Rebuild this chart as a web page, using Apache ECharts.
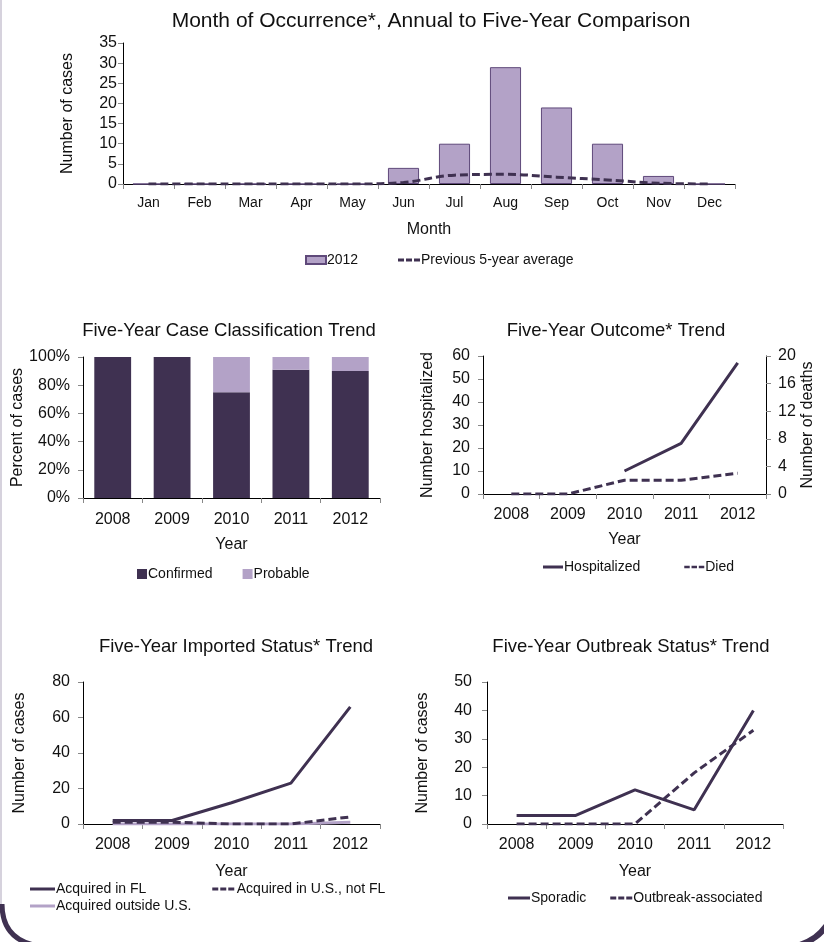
<!DOCTYPE html>
<html>
<head>
<meta charset="utf-8">
<title>Five-Year Trends</title>
<script src="https://cdn.jsdelivr.net/npm/echarts@6/dist/echarts.min.js"></script>
<style>
  html, body { margin: 0; padding: 0; background: #fff; }
  #chart { width: 824px; height: 942px; }
</style>
</head>
<body>
<div id="chart"></div>
<script>
// ---- data ----
const months = ['Jan', 'Feb', 'Mar', 'Apr', 'May', 'Jun', 'Jul', 'Aug', 'Sep', 'Oct', 'Nov', 'Dec'];
const cases2012 = [0, 0, 0, 0, 0, 4, 10, 29, 19, 10, 2, 0];
const prev5yrAvg = [0, 0, 0, 0, 0, 0.4, 2.2, 2.4, 1.7, 1.0, 0.2, 0];

const years = ['2008', '2009', '2010', '2011', '2012'];
const confirmedPct = [100, 100, 75, 91, 90];
const probablePct = [0, 0, 25, 9, 10];

const hospitalized = [null, null, 10, 22, 57];
const died = [0, 0, 2, 2, 3];

const acquiredFL = [2, 2, 12, 23, 66];
const acquiredUSnotFL = [1, 1, 0, 0, 4];
const acquiredOutsideUS = [0, 0, 0, 0, 1];

const sporadic = [3, 3, 12, 5, 40];
const outbreakAssoc = [0, 0, 0, 18, 33];

// ---- styling ----
const DARK = '#3f3151';
const LIGHT = '#b3a2c7';
const BAR_EDGE = '#5f497a';
const FONT = '"Liberation Sans", Arial, sans-serif';
const TXT = '#111';
const DASH = [8, 4];

// legend glyphs for line series
const SOLID_ICON = 'rect';
const DASH_ICON = 'path://M0,0h6v3h-6zM8,0h6v3h-6zM16,0h6v3h-6z';

function titleAt(text, cx, top, size) {
  return {
    text, left: cx, top, textAlign: 'center', padding: 0,
    textStyle: { fontFamily: FONT, fontSize: size, fontWeight: 'normal', color: TXT }
  };
}

function catAxis(grid, size, nameGap, margin) {
  return {
    type: 'category', gridIndex: grid, data: grid === 0 ? months : years,
    name: grid === 0 ? 'Month' : 'Year', nameLocation: 'middle', nameGap,
    nameTextStyle: { fontFamily: FONT, fontSize: 16, color: TXT },
    axisLine: { show: true, lineStyle: { color: '#000', width: 1 } },
    axisTick: { show: true, length: 5, lineStyle: { color: '#888' } },
    axisLabel: { fontFamily: FONT, fontSize: size, color: TXT, margin },
    splitLine: { show: false }
  };
}

function valAxis(grid, name, max, interval, nameGap, margin, fmt, pos) {
  return {
    type: 'value', gridIndex: grid, min: 0, max, interval,
    position: pos || 'left',
    name, nameLocation: 'middle', nameGap, nameRotate: 90,
    nameTextStyle: { fontFamily: FONT, fontSize: 16, color: TXT },
    axisLine: { show: true, lineStyle: { color: '#000', width: 1 } },
    axisTick: { show: true, length: 5, lineStyle: { color: '#888' } },
    axisLabel: { fontFamily: FONT, fontSize: 16, color: TXT, margin, formatter: fmt },
    splitLine: { show: false }
  };
}

function legendAt(items, left, top, gap, iconW, iconH) {
  return {
    data: items, left, top, padding: 0, itemGap: gap,
    itemWidth: iconW, itemHeight: iconH,
    textStyle: { fontFamily: FONT, fontSize: 14, color: TXT, padding: [0, 0, 0, -4] },
    selectedMode: false
  };
}

const chart = echarts.init(document.getElementById('chart'), null, { renderer: 'canvas' });

chart.setOption({
  backgroundColor: '#fff',
  animation: false,
  title: [
    titleAt('Month of Occurrence*, Annual to Five-Year Comparison', 431, 11, 21),
    titleAt('Five-Year Case Classification Trend', 229, 321, 18.5),
    titleAt('Five-Year Outcome* Trend', 616, 321, 18.5),
    titleAt('Five-Year Imported Status* Trend', 236, 637, 18.5),
    titleAt('Five-Year Outbreak Status* Trend', 631, 637, 18.5)
  ],
  grid: [
    { left: 123, top: 43, width: 612, height: 141 },
    { left: 83, top: 357, width: 297, height: 141 },
    { left: 483, top: 356, width: 283, height: 138 },
    { left: 83, top: 682, width: 297, height: 142 },
    { left: 487, top: 682, width: 296, height: 142 }
  ],
  xAxis: [
    catAxis(0, 14, 38, 12),
    catAxis(1, 16, 39, 14),
    catAxis(2, 16, 38, 13),
    catAxis(3, 16, 40, 13),
    catAxis(4, 16, 40, 13)
  ],
  yAxis: [
    valAxis(0, 'Number of cases', 35, 5, 47, 6),
    valAxis(1, 'Percent of cases', 100, 20, 53, 13, '{value}%'),
    valAxis(2, 'Number hospitalized', 60, 10, 47, 13),
    valAxis(2, 'Number of deaths', 20, 4, 32, 12, null, 'right'),
    valAxis(3, 'Number of cases', 80, 20, 55, 13),
    valAxis(4, 'Number of cases', 50, 10, 56, 15)
  ],
  legend: [
    legendAt([{ name: '2012', icon: 'rect' }], 305, 253, 10, 20, 8),
    legendAt([{ name: 'Previous 5-year average', icon: DASH_ICON }], 398, 253, 10, 22, 3),
    legendAt(['Confirmed', 'Probable'].map(n => ({ name: n, icon: 'rect' })), 137, 567, 30, 10, 10),
    legendAt([{ name: 'Hospitalized', icon: SOLID_ICON }, { name: 'Died', icon: DASH_ICON }], 543, 560, 44, 20, 3),
    legendAt([{ name: 'Acquired in FL', icon: SOLID_ICON }, { name: 'Acquired in U.S., not FL', icon: DASH_ICON }], 30, 882, 66, 25, 3),
    legendAt([{ name: 'Acquired outside U.S.', icon: SOLID_ICON }], 30, 899, 10, 25, 3),
    legendAt([{ name: 'Sporadic', icon: SOLID_ICON }, { name: 'Outbreak-associated', icon: DASH_ICON }], 508, 891, 24, 22, 3)
  ],
  series: [
    {
      name: '2012', type: 'bar', xAxisIndex: 0, yAxisIndex: 0, data: cases2012,
      barCategoryGap: '39%',
      itemStyle: { color: LIGHT, borderColor: BAR_EDGE, borderWidth: 1 }
    },
    {
      name: 'Previous 5-year average', type: 'line', xAxisIndex: 0, yAxisIndex: 0,
      data: prev5yrAvg, smooth: 0.4, symbol: 'none',
      lineStyle: { color: DARK, width: 3, type: DASH }, itemStyle: { color: DARK }
    },
    {
      name: 'Confirmed', type: 'bar', stack: 'cls', xAxisIndex: 1, yAxisIndex: 1,
      data: confirmedPct, barCategoryGap: '38%',
      itemStyle: { color: DARK }
    },
    {
      name: 'Probable', type: 'bar', stack: 'cls', xAxisIndex: 1, yAxisIndex: 1,
      data: probablePct, barCategoryGap: '38%',
      itemStyle: { color: LIGHT }
    },
    {
      name: 'Hospitalized', type: 'line', xAxisIndex: 2, yAxisIndex: 2,
      data: hospitalized, symbol: 'none',
      lineStyle: { color: DARK, width: 3 }, itemStyle: { color: DARK }
    },
    {
      name: 'Died', type: 'line', xAxisIndex: 2, yAxisIndex: 3,
      data: died, symbol: 'none',
      lineStyle: { color: DARK, width: 3, type: DASH }, itemStyle: { color: DARK }
    },
    {
      name: 'Acquired outside U.S.', type: 'line', xAxisIndex: 3, yAxisIndex: 4,
      data: acquiredOutsideUS, symbol: 'none',
      lineStyle: { color: LIGHT, width: 3 }, itemStyle: { color: LIGHT }
    },
    {
      name: 'Acquired in U.S., not FL', type: 'line', xAxisIndex: 3, yAxisIndex: 4,
      data: acquiredUSnotFL, symbol: 'none',
      lineStyle: { color: DARK, width: 3, type: DASH }, itemStyle: { color: DARK }
    },
    {
      name: 'Acquired in FL', type: 'line', xAxisIndex: 3, yAxisIndex: 4,
      data: acquiredFL, symbol: 'none',
      lineStyle: { color: DARK, width: 3 }, itemStyle: { color: DARK }
    },
    {
      name: 'Sporadic', type: 'line', xAxisIndex: 4, yAxisIndex: 5,
      data: sporadic, symbol: 'none',
      lineStyle: { color: DARK, width: 3 }, itemStyle: { color: DARK }
    },
    {
      name: 'Outbreak-associated', type: 'line', xAxisIndex: 4, yAxisIndex: 5,
      data: outbreakAssoc, symbol: 'none',
      lineStyle: { color: DARK, width: 3, type: DASH }, itemStyle: { color: DARK }
    }
  ],
  // page frame: thin left rule with rounded dark corners at the bottom
  graphic: [
    { type: 'rect', shape: { x: 0, y: 0, width: 2, height: 908 }, style: { fill: '#d6d2dd' }, silent: true },
    { type: 'bezierCurve',
      shape: { x1: 2, y1: 904, cpx1: 2, cpy1: 926, cpx2: 12, cpy2: 940, x2: 34, y2: 945 },
      style: { fill: null, stroke: DARK, lineWidth: 5 }, silent: true },
    { type: 'bezierCurve',
      shape: { x1: 797, y1: 946, cpx1: 812, cpy1: 941, cpx2: 820, cpy2: 935, x2: 827, y2: 925 },
      style: { fill: null, stroke: DARK, lineWidth: 6 }, silent: true }
  ]
});
</script>
</body>
</html>
